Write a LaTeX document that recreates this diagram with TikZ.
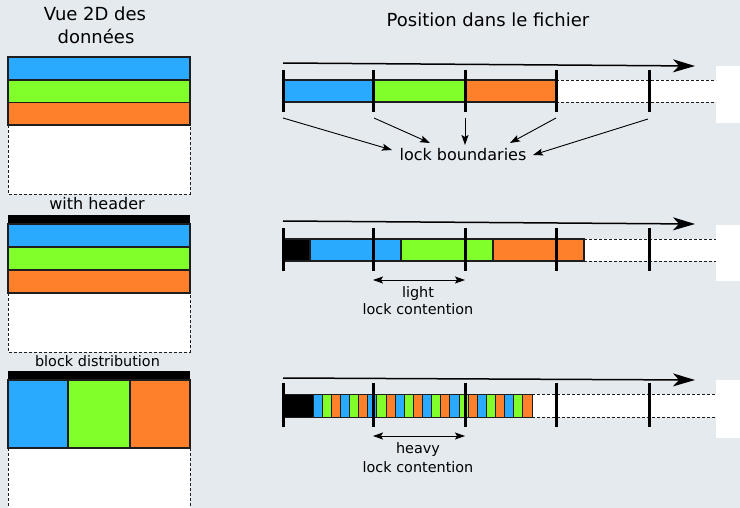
\documentclass[tikz,border=0pt]{standalone}
\usepackage{fontspec}
\setmainfont{DejaVu Sans}
\usetikzlibrary{arrows.meta}
\definecolor{bg}{RGB}{229,234,239}
\definecolor{cblue}{RGB}{42,170,255}
\definecolor{cgreen}{RGB}{128,255,42}
\definecolor{corange}{RGB}{255,128,42}
\definecolor{edge}{RGB}{30,30,30}
\begin{document}
\begin{tikzpicture}[x=1pt,y=-1pt,
 cell/.style={draw=edge, line width=1.3pt},
 thincell/.style={draw=edge, line width=0.8pt},
 tickmark/.style={line width=3pt, draw=black},
 dashline/.style={draw=edge, line width=0.8pt, dash pattern=on 3pt off 2pt},
 axis/.style={line width=1.5pt, -{Stealth[length=22pt,width=13pt,inset=6pt]}},
 ptr/.style={line width=0.9pt, -{Stealth[length=10pt,width=7pt,inset=2pt]}},
 dptr/.style={line width=0.9pt, {Stealth[length=10pt,width=7pt,inset=2pt]}-{Stealth[length=10pt,width=7pt,inset=2pt]}},
 title/.style={font=\fontsize{18}{20}\selectfont, anchor=base, inner sep=0pt},
 lab/.style={font=\fontsize{16}{18}\selectfont, anchor=base, inner sep=0pt},
 smalllab/.style={font=\fontsize{14.4}{17}\selectfont, anchor=base, inner sep=0pt},
]
\fill[bg] (0,0) rectangle (740,508);
\useasboundingbox (0,0) rectangle (740,508);

% ---------- titles ----------
\node[title] (t1a) at (95,21) {Vue 2D des};
\node[title] (t1b) at (96,44) {données};
\node[title] (t2) at (488,27) {Position dans le fichier};

% ---------- left view 1 ----------
\fill[white] (8,125) rectangle (190,194);
\draw[dashline] (8,125) -- (8,194) -- (190,194) -- (190,125);
\filldraw[cell, fill=cblue] (8,57) rectangle (190,80);
\filldraw[cell, fill=cgreen] (8,80) rectangle (190,102.5);
\filldraw[cell, fill=corange] (8,102.5) rectangle (190,125);

% ---------- left view 2 ----------
\node[lab] (l2) at (97,210) {with header};
\fill[white] (8,293) rectangle (190,352);
\draw[dashline] (8,293) -- (8,352) -- (190,352) -- (190,293);
\fill[black] (8,215.5) rectangle (190,224);
\filldraw[cell, fill=cblue] (8,224) rectangle (190,247);
\filldraw[cell, fill=cgreen] (8,247) rectangle (190,270);
\filldraw[cell, fill=corange] (8,270) rectangle (190,293);

% ---------- left view 3 ----------
\node[smalllab] (l3) at (97.5,366) {block distribution};
\fill[white] (8,448) rectangle (190,508);
\draw[dashline] (8,448) -- (8,508);
\draw[dashline] (190,448) -- (190,508);
\fill[black] (8,371) rectangle (190,380);
\filldraw[cell, fill=cblue] (8,380) rectangle (68,448);
\filldraw[cell, fill=cgreen] (68,380) rectangle (130,448);
\filldraw[cell, fill=corange] (130,380) rectangle (190,448);

% ---------- right edge white blocks ----------
\fill[white] (716,66) rectangle (740,123);
\fill[white] (716,225) rectangle (740,281);
\fill[white] (716,380) rectangle (740,438);

% ---------- row 1 ----------
\coordinate (a1s) at (283,63);
\coordinate (a1e) at (695,66);
\draw[axis] (a1s) -- (a1e);
\fill[white] (556,80) rectangle (716,102);
\draw[dashline] (556,80) -- (716,80);
\draw[dashline] (556,102) -- (716,102);
\filldraw[cell, fill=cblue] (283,80) rectangle (373,102);
\filldraw[cell, fill=cgreen] (373,80) rectangle (465,102);
\filldraw[cell, fill=corange] (465,80) rectangle (556,102);
\foreach \x in {283,373,465,556,649} \draw[tickmark] (\x,70) -- (\x,112);

\node[lab] (lb) at (463,161) {lock boundaries};
\coordinate (s1) at (283,118); \coordinate (e1) at (392,150);
\coordinate (s2) at (374,118); \coordinate (e2) at (430,143);
\coordinate (s3) at (465,118); \coordinate (e3) at (465,145);
\coordinate (s4) at (556,118); \coordinate (e4) at (510,143);
\coordinate (s5) at (648,119); \coordinate (e5) at (533,155);
\foreach \i in {1,...,5} \draw[ptr] (s\i) -- (e\i);

% ---------- row 2 ----------
\coordinate (a2s) at (283,221);
\coordinate (a2e) at (695,224);
\draw[axis] (a2s) -- (a2e);
\fill[white] (584,239) rectangle (716,261);
\draw[dashline] (584,239) -- (716,239);
\draw[dashline] (584,261) -- (716,261);
\filldraw[cell, fill=black] (283,239) rectangle (310,261);
\filldraw[cell, fill=cblue] (310,239) rectangle (401,261);
\filldraw[cell, fill=cgreen] (401,239) rectangle (493,261);
\filldraw[cell, fill=corange] (493,239) rectangle (584,261);
\foreach \x in {283,373,465,556,649} \draw[tickmark] (\x,228) -- (\x,271);
\coordinate (d2a) at (373,280);
\coordinate (d2b) at (465,280);
\draw[dptr] (d2a) -- (d2b);
\node[smalllab] (lt1) at (418,298) {light};
\node[smalllab] (lt2) at (418,315) {lock contention};

% ---------- row 3 ----------
\coordinate (a3s) at (283,378);
\coordinate (a3e) at (695,380);
\draw[axis] (a3s) -- (a3e);
\fill[white] (532,394) rectangle (716,417);
\draw[dashline] (532,394) -- (716,394);
\draw[dashline] (532,417) -- (716,417);
\filldraw[thincell, fill=black] (283,394) rectangle (313,417);
\foreach \k in {0,...,7} {
  \foreach \j/\c in {0/cblue,1/cgreen,2/corange} {
    \pgfmathsetmacro\xa{313+(3*\k+\j)*9.125}
    \filldraw[thincell, fill=\c] (\xa,394) rectangle ++(9.125,23);
  }
}
\foreach \x in {283,373,465,556,649} \draw[tickmark] (\x,383) -- (\x,427);
\coordinate (d3a) at (373,436);
\coordinate (d3b) at (465,436);
\draw[dptr] (d3a) -- (d3b);
\node[smalllab] (ht1) at (418,453) {heavy};
\node[smalllab] (ht2) at (418,472) {lock contention};
\end{tikzpicture}
\end{document}
